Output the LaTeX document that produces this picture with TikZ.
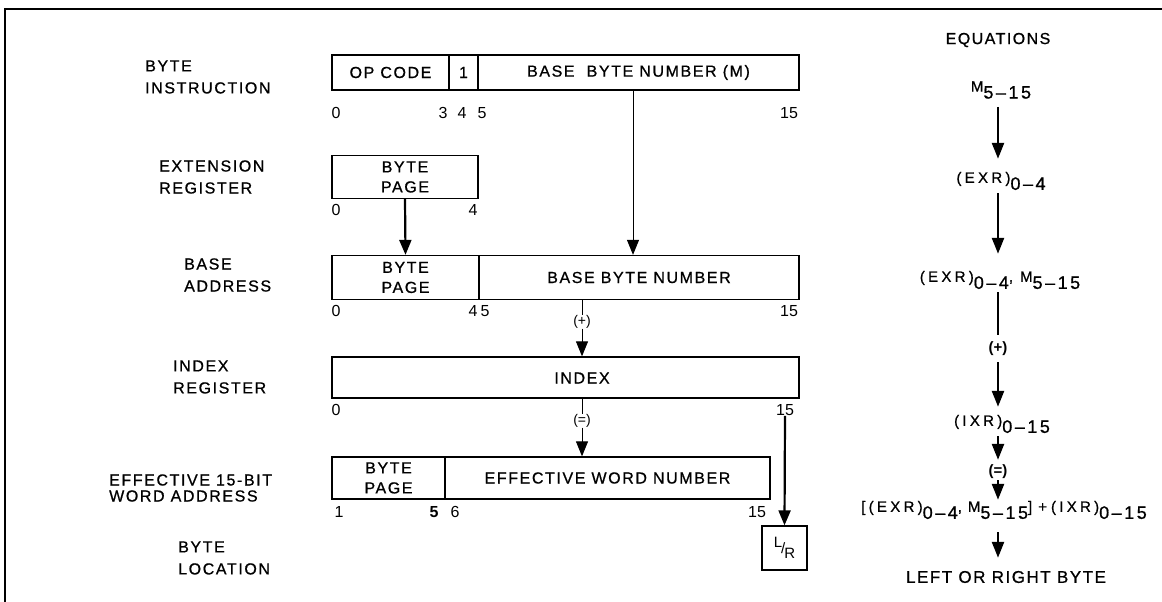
\documentclass[tikz,border=0pt]{standalone}
\usepackage{fontspec}
\setmainfont{Liberation Sans}
\newfontfamily\spaced[LetterSpace=10, FakeBold=0.8]{Liberation Sans}
\newfontfamily\eqbasefont[LetterSpace=22, FakeBold=0.8]{Liberation Sans}
\newfontfamily\eqsubfont[LetterSpace=14, FakeBold=0.8]{Liberation Sans}
\newfontfamily\eqfont[LetterSpace=9, FakeBold=0.8]{Liberation Sans}
\usetikzlibrary{arrows.meta, positioning}

% equation term: raised base text, lowered bit range
\newcommand{\term}[2]{\raisebox{7pt}{\eqbasefont\fontsize{15}{15}\selectfont #1}{\eqsubfont\fontsize{18}{18}\selectfont #2}}
\newcommand{\upper}[1]{\raisebox{7pt}{\eqbasefont\fontsize{15}{15}\selectfont #1}}

\tikzset{
    field/.style={draw, line width=1.3pt, inner sep=0pt, align=center,
        font=\spaced\fontsize{16}{20}\selectfont},
    fieldtext/.style={inner sep=0pt, font=\spaced\fontsize{16}{20}\selectfont},
    rowlabel/.style={anchor=west, align=left, inner sep=0pt,
        font=\spaced\fontsize{16}{22}\selectfont},
    bitno/.style={inner sep=0pt, font=\fontsize{16}{16}\selectfont},
    eqtext/.style={inner sep=3pt},
    thinarrow/.style={line width=1pt, -{Triangle[length=15pt,width=12pt]}},
    thickarrow/.style={line width=2.2pt, -{Triangle[length=15pt,width=12pt]}},
    eqarrow/.style={line width=2.5pt, -{Triangle[length=16pt,width=12pt]}},
}

\begin{document}
\begin{tikzpicture}[x=1pt, y=-1pt]
    \useasboundingbox (0,0) rectangle (1162,602);
    % frame (top and left only)
    \draw[line width=2pt] (1162,9) -- (5,9) -- (5,602);

    % row labels
    \node[rowlabel] (lbyte) at (145,77) {BYTE\\INSTRUCTION};
    \node[rowlabel] (lext) at (159,177) {EXTENSION\\REGISTER};
    \node[rowlabel] (lbase) at (184,275) {BASE\\ADDRESS};
    \node[rowlabel] (lindex) at (173,377) {INDEX\\REGISTER};
    \node[rowlabel] (leff) at (109,488) {EFFECTIVE 15-BIT\\[-6pt]WORD ADDRESS};
    \node[rowlabel] (lloc) at (178,558) {BYTE\\LOCATION};

    % byte instruction
    \node[field, minimum width=117, minimum height=35] (opcode) at (390.5,72.5) {OP CODE};
    \node[field, minimum width=29, minimum height=35] (imm) at (463.5,72.5) {1};
    \node[field, minimum width=321, minimum height=35] (basem) at (638.5,72.5) {BASE\ \ BYTE NUMBER (M)};
    \foreach \x/\t in {336/0, 443/3, 462/4, 482/5, 789/15}
        \node[bitno] (r1-\t) at (\x,113) {\t};

    % extension register
    \node[field, minimum width=146, minimum height=43] (ext) at (405,177) {BYTE\\PAGE};
    \foreach \x/\t in {336/0, 473/4}
        \node[bitno] (r2-\t) at (\x,210) {\t};

    % base address
    \node[field, minimum width=147, minimum height=44] (bpage) at (405.5,277.5) {BYTE\\PAGE};
    \node[field, minimum width=320, minimum height=44] (bbn) at (639,277.5) {BASE BYTE NUMBER};
    \foreach \x/\t in {336/0, 473/4, 485/5, 789/15}
        \node[bitno] (r3-\t) at (\x,311) {\t};

    % index register
    \node[field, minimum width=467, minimum height=41] (index) at (565.5,377.5) {};
    \node[fieldtext] (indextext) at (582,378) {INDEX};
    \foreach \x/\t in {336/0, 785/15}
        \node[bitno] (r4-\t) at (\x,410) {\t};

    % effective word address
    \node[field, minimum width=113, minimum height=42] (epage) at (388.5,478) {BYTE\\PAGE};
    \node[field, minimum width=325, minimum height=42] (ewn) at (607.5,478) {EFFECTIVE WORD NUMBER};
    \foreach \x/\n/\t in {339/1/1, 434/5/{\textbf{5}}, 455/6/6, 757/15/15}
        \node[bitno] (r5-\n) at (\x,512) {\t};

    % byte location
    \node[field, minimum width=45, minimum height=44, font=\fontsize{15}{15}\selectfont] (lr) at (784.5,548)
        {\raisebox{6pt}{L}\kern-1pt/\kern-1pt\raisebox{-5pt}{R}};

    % operators
    \node[bitno, font=\fontsize{14}{14}\selectfont] (plus) at (582,322) {(+)};
    \node[bitno, font=\fontsize{14}{14}\selectfont] (equal) at (582,421) {(=)};

    % connectors
    \draw[thinarrow] ([xshift=-5.5pt]basem.south) -- ([xshift=-6pt]bbn.north);
    \draw[thickarrow] (ext.south) -- (bpage.north);
    \draw[line width=1pt] (bbn.south -| plus) -- (plus.north);
    \draw[thinarrow] (plus.south) -- (index.north -| plus);
    \draw[line width=1pt] (index.south -| equal) -- (equal.north);
    \draw[thinarrow] (equal.south) -- (ewn.north -| equal);
    \draw[thickarrow] (r4-15.south) -- (lr.north);

    % equations
    \node[eqtext, font=\eqfont\fontsize{16}{16}\selectfont] (eqhead) at (998,40) {EQUATIONS};
    \node[eqtext] (eqm) at (1001,90) {\term{M}{5–15}};
    \node[eqtext] (eqexr) at (1001,181) {\term{(EXR)}{0–4}};
    \node[eqtext] (eqbase) at (1000,280) {\term{(EXR)}{0–4}\upper{,}\hspace{7pt}\term{M}{5–15}};
    \node[eqtext, font=\bfseries\fontsize{15}{15}\selectfont] (eqplus) at (998,349) {(+)};
    \node[eqtext] (eqixr) at (1002,424) {\term{(IXR)}{0–15}};
    \node[eqtext, font=\bfseries\fontsize{15}{15}\selectfont] (eqequal) at (998,472) {(=)};
    \node[eqtext] (eqsum) at (1004,510) {\term{[(EXR)}{0–4}\upper{,}\hspace{6pt}\term{M}{5–15}\upper{]}\hspace{6pt}\upper{+}\hspace{4pt}\term{(IXR)}{0–15}};
    \node[eqtext, font=\eqfont\fontsize{17}{17}\selectfont] (eqbyte) at (1006,577) {LEFT OR RIGHT BYTE};

    \draw[eqarrow, shorten <=5pt, shorten >=10pt] (eqm.south -| eqplus) -- (eqexr.north -| eqplus);
    \draw[eqarrow, shorten <=0pt, shorten >=14pt] (eqexr.south -| eqplus) -- (eqbase.north -| eqplus);
    \draw[line width=2.5pt, shorten <=0pt, shorten >=4pt] (eqbase.south -| eqplus) -- (eqplus.north);
    \draw[eqarrow, shorten <=3pt, shorten >=5pt] (eqplus.south) -- (eqixr.north -| eqplus);
    \draw[eqarrow, shorten <=0pt, shorten >=2pt] (eqixr.south -| eqplus) -- (eqequal.north);
    \draw[eqarrow, shorten <=-2pt, shorten >=-2pt] (eqequal.south) -- (eqsum.north -| eqequal);
    \draw[eqarrow, shorten <=10pt, shorten >=10pt] (eqsum.south -| eqequal) -- (eqbyte.north -| eqequal);
\end{tikzpicture}
\end{document}
